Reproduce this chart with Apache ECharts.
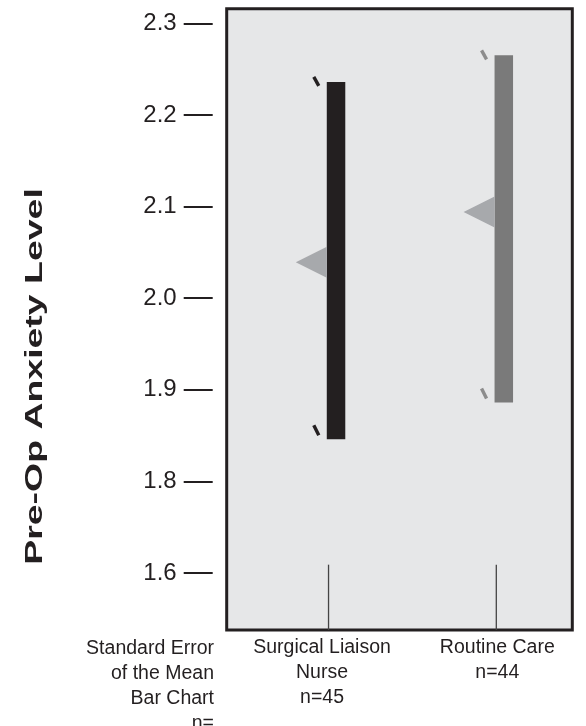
<!DOCTYPE html>
<html>
<head>
<meta charset="utf-8">
<script src="https://cdn.jsdelivr.net/npm/echarts@6/dist/echarts.min.js"></script>
<style>
html,body{margin:0;padding:0;background:#fff;}
#chart{width:586px;height:726px;}
</style>
</head>
<body>
<div id="chart"></div>
<script>
// ---- data ----
const categories = ['Surgical Liaison\nNurse', 'Routine Care'];
const groupN = ['n=45', 'n=44'];
const groupPos = [1, 2];
const seLow = [1.846, 1.886];
const seHigh = [2.236, 2.265];
const means = [2.039, 2.094];
const yTickValues = [1.7, 1.8, 1.9, 2.0, 2.1, 2.2, 2.3];
const yTickLabels = ['1.6', '1.8', '1.9', '2.0', '2.1', '2.2', '2.3'];
const stemTop = 1.709;
const yAxisTitle = 'Pre-Op Anxiety Level';
const sideNote = 'Standard Error\nof the Mean\nBar Chart\nn=';

const barColors = ['#231f20', '#7a7a7a'];
const markColors = ['#231f20', '#8c8c8c'];
const FONT = '"Liberation Sans", Arial, sans-serif';

const yMin = 1.6377, yMax = 2.3159;

const chart = echarts.init(document.getElementById('chart'), null, {renderer: 'canvas'});

const seriesData = groupPos.map((p, i) => [p, seLow[i], seHigh[i], means[i]]);

function renderItem(params, api) {
  const i = params.dataIndex;
  const pos = api.value(0);
  const lo = api.coord([pos, api.value(1)]);
  const hi = api.coord([pos, api.value(2)]);
  const mn = api.coord([pos, api.value(3)]);
  const base = api.coord([pos, yMin]);
  const stem = api.coord([pos, stemTop]);
  const lineX = lo[0];
  const barW = 18.5;
  const barLeft = lineX + 7.5 - barW / 2;
  const children = [];
  children.push({
    type: 'line',
    shape: {x1: lineX, y1: stem[1], x2: lineX, y2: base[1]},
    style: {stroke: '#444', lineWidth: 1.3}
  });
  children.push({
    type: 'rect',
    shape: {x: barLeft, y: hi[1], width: barW, height: lo[1] - hi[1]},
    style: {fill: barColors[i]}
  });
  children.push({
    type: 'polygon',
    shape: {points: [[barLeft - 31, mn[1]], [barLeft, mn[1] - 15.5], [barLeft, mn[1] + 15.5]]},
    style: {fill: '#a7a9ac'}
  });
  children.push({
    type: 'line',
    shape: {x1: barLeft - 13, y1: hi[1] - 5, x2: barLeft - 8, y2: hi[1] + 4},
    style: {stroke: markColors[i], lineWidth: 3.4, lineCap: 'butt'}
  });
  children.push({
    type: 'line',
    shape: {x1: barLeft - 13, y1: lo[1] - 14, x2: barLeft - 8, y2: lo[1] - 4},
    style: {stroke: markColors[i], lineWidth: 3.4, lineCap: 'butt'}
  });
  return {type: 'group', children};
}

const option = {
  animation: false,
  backgroundColor: '#ffffff',
  grid: {
    left: 226.7, top: 8.7, width: 345.6, height: 621.3,
    show: true, backgroundColor: '#e6e7e8', borderColor: '#231f20', borderWidth: 3,
    containLabel: false
  },
  xAxis: {
    type: 'value', min: 0.393, max: 2.453,
    axisLine: {show: false}, axisTick: {show: false}, splitLine: {show: false},
    axisLabel: {
      customValues: groupPos,
      margin: 5,
      formatter: (v) => {
        const i = groupPos.indexOf(v);
        if (i < 0) return '';
        const lines = (categories[i] + '\n' + groupN[i]).split('\n');
        return lines.map(l => '{c' + i + '|' + l + '}').join('\n');
      },
      rich: {
        c0: {fontFamily: FONT, fontSize: 19.5, lineHeight: 25, color: '#231f20', padding: [0, 13, 0, 0]},
        c1: {fontFamily: FONT, fontSize: 19.5, lineHeight: 25, color: '#231f20', padding: [0, 0, 0, 2]}
      },
      fontFamily: FONT, fontSize: 19.5, lineHeight: 25, color: '#231f20', align: 'center'
    }
  },
  yAxis: {
    type: 'value', min: yMin, max: yMax, offset: 14,
    axisLine: {show: false},
    splitLine: {show: false},
    axisTick: {show: true, customValues: yTickValues, length: 29, lineStyle: {color: '#231f20', width: 2}},
    axisLabel: {
      customValues: yTickValues,
      margin: 36,
      formatter: (v) => {
        let idx = -1;
        yTickValues.forEach((t, k) => { if (Math.abs(t - v) < 1e-6) idx = k; });
        return idx >= 0 ? yTickLabels[idx] : '';
      },
      fontFamily: FONT, fontSize: 24, color: '#231f20'
    }
  },
  graphic: [
    {
      type: 'text', x: 35, y: 376.5, rotation: Math.PI / 2, scaleX: 1.56,
      style: {text: yAxisTitle, font: 'bold 24px ' + FONT, fill: '#231f20', align: 'center', verticalAlign: 'middle'}
    },
    {
      type: 'text', x: 214, y: 636,
      style: {text: sideNote, font: '19.5px ' + FONT, lineHeight: 25, fill: '#231f20', align: 'right', verticalAlign: 'top'}
    }
  ],
  series: [{
    type: 'custom',
    renderItem: renderItem,
    data: seriesData,
    encode: {x: 0, y: [1, 2, 3]},
    clip: false
  }]
};
chart.setOption(option);
</script>
</body>
</html>
